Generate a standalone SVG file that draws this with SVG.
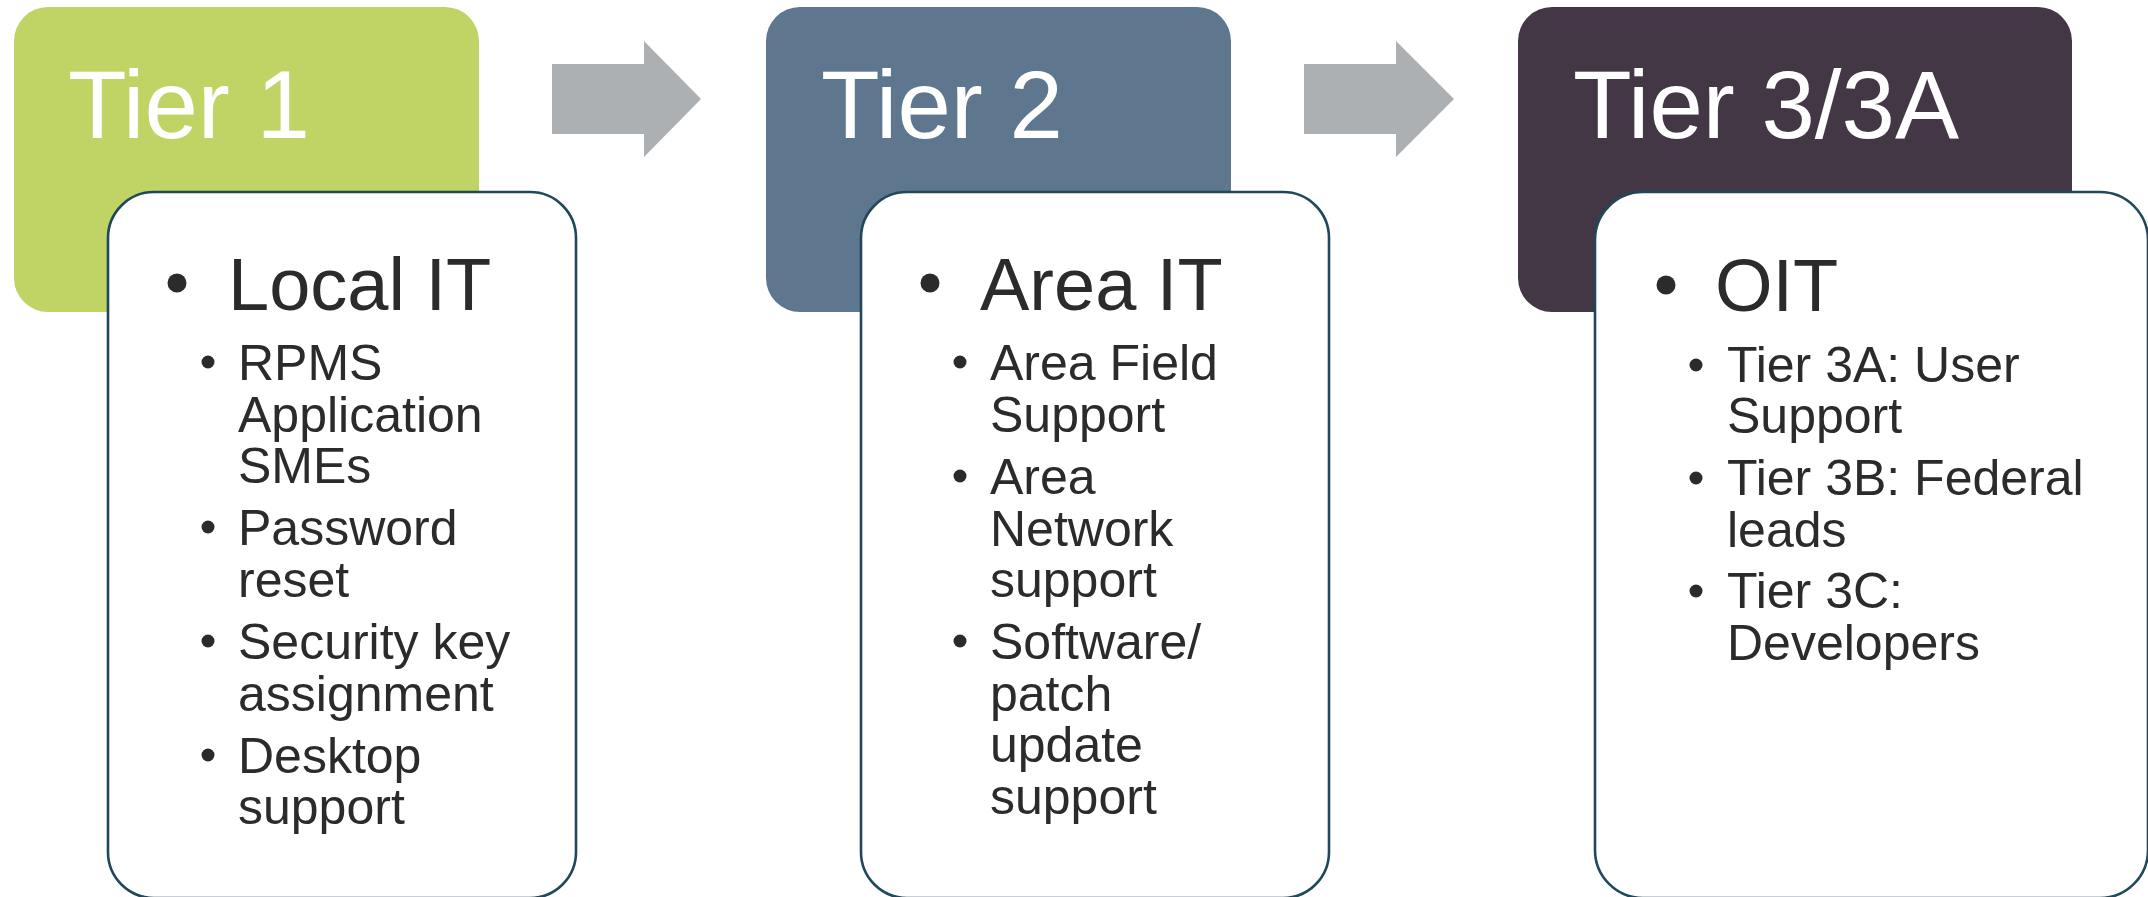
<svg xmlns="http://www.w3.org/2000/svg" width="2148" height="897" viewBox="0 0 2148 897">
<style>
.title{font-family:"Liberation Sans",Arial,sans-serif;font-size:96px;fill:#ffffff}
.main{font-family:"Liberation Sans",Arial,sans-serif;font-size:74px;fill:#2b2b2b}
.sub{font-family:"Liberation Sans",Arial,sans-serif;font-size:50px;fill:#2b2b2b}
.card{fill:#ffffff;stroke:#21475a;stroke-width:2.6}
.dot{fill:#2b2b2b}
.arrow{fill:#adb0b3}
</style>
<rect width="2148" height="897" fill="#ffffff"/>
<g id="connectors">
<polygon class="arrow" points="552,64 644,64 644,41 701,99 644,157 644,134 552,134"/>
<polygon class="arrow" points="1304,64 1396,64 1396,41 1454,99 1396,157 1396,134 1304,134"/>
</g>
<g id="tier1">
<rect x="14" y="7" width="465" height="305" rx="34" fill="#c0d465"/>
<text class="title" x="68" y="138">Tier 1</text>
</g>
<g id="local-it">
<rect class="card" x="108" y="192" width="468" height="706" rx="46"/>
<circle class="dot" cx="177" cy="283" r="9.5"/>
<text class="main" x="228" y="310">Local IT</text>
<circle class="dot" cx="208" cy="362" r="6.5"/>
<text class="sub" x="238" y="380">RPMS</text>
<text class="sub" x="238" y="432">Application</text>
<text class="sub" x="238" y="483">SMEs</text>
<circle class="dot" cx="208" cy="527" r="6.5"/>
<text class="sub" x="238" y="545">Password</text>
<text class="sub" x="238" y="597">reset</text>
<circle class="dot" cx="208" cy="641" r="6.5"/>
<text class="sub" x="238" y="659">Security key</text>
<text class="sub" x="238" y="711">assignment</text>
<circle class="dot" cx="208" cy="755" r="6.5"/>
<text class="sub" x="238" y="773">Desktop</text>
<text class="sub" x="238" y="824">support</text>
</g>
<g id="tier2">
<rect x="766" y="7" width="465" height="305" rx="34" fill="#5e778e"/>
<text class="title" x="821" y="138">Tier 2</text>
</g>
<g id="area-it">
<rect class="card" x="861" y="192" width="468" height="706" rx="46"/>
<circle class="dot" cx="930" cy="283" r="9.5"/>
<text class="main" x="980" y="310">Area IT</text>
<circle class="dot" cx="960" cy="362" r="6.5"/>
<text class="sub" x="990" y="380">Area Field</text>
<text class="sub" x="990" y="432">Support</text>
<circle class="dot" cx="960" cy="476" r="6.5"/>
<text class="sub" x="990" y="494">Area</text>
<text class="sub" x="990" y="546">Network</text>
<text class="sub" x="990" y="597">support</text>
<circle class="dot" cx="960" cy="641" r="6.5"/>
<text class="sub" x="990" y="659">Software/</text>
<text class="sub" x="990" y="711">patch</text>
<text class="sub" x="990" y="762">update</text>
<text class="sub" x="990" y="814">support</text>
</g>
<g id="tier3">
<rect x="1518" y="7" width="554" height="305" rx="34" fill="#433745"/>
<text class="title" x="1573" y="138">Tier 3/3A</text>
</g>
<g id="oit">
<rect class="card" x="1595" y="192" width="553" height="706" rx="48"/>
<circle class="dot" cx="1666" cy="285" r="9.5"/>
<text class="main" x="1715" y="311">OIT</text>
<circle class="dot" cx="1696" cy="365" r="6.5"/>
<text class="sub" x="1727" y="382">Tier 3A: User</text>
<text class="sub" x="1727" y="433">Support</text>
<circle class="dot" cx="1696" cy="478" r="6.5"/>
<text class="sub" x="1727" y="495">Tier 3B: Federal</text>
<text class="sub" x="1727" y="547">leads</text>
<circle class="dot" cx="1696" cy="591" r="6.5"/>
<text class="sub" x="1727" y="608">Tier 3C:</text>
<text class="sub" x="1727" y="660">Developers</text>
</g>
</svg>
